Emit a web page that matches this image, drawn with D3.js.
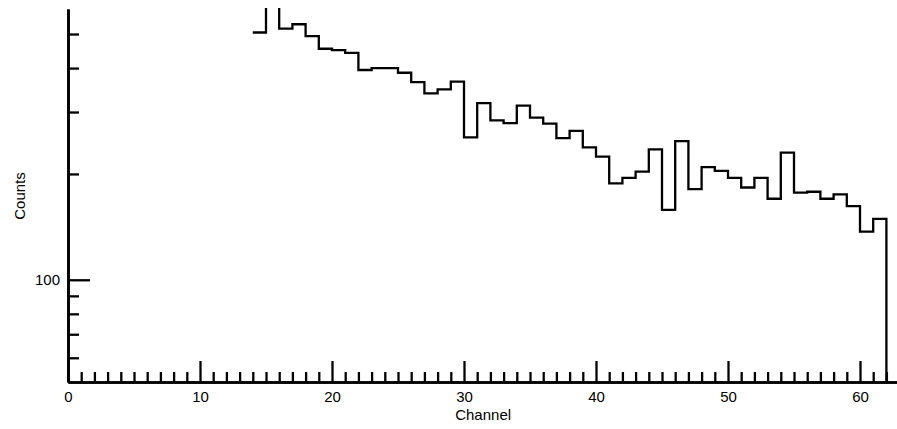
<!DOCTYPE html>
<html>
<head>
<meta charset="utf-8">
<script src="https://cdn.jsdelivr.net/npm/d3@7"></script>
<style>
  body { margin: 0; background: #fff; }
  text { font-family: "Liberation Sans", Arial, sans-serif; }
</style>
</head>
<body>
<script>
var width = 897, height = 429;

// Histogram data: counts per channel, starting at channel 14
var firstChannel = 14;
var counts = [505, 620, 518, 533, 493, 454, 450, 442, 395, 400, 400, 388, 365,
              339, 348, 366, 254, 318, 284, 279, 313, 289, 278, 253, 265, 238,
              224, 188, 195, 203, 235, 158, 248, 181, 209, 204, 195, 183, 195,
              170, 230, 177, 178, 170, 175, 162, 137, 149];

var xMajorTicks = [0, 10, 20, 30, 40, 50, 60];
var xMinorTicks = d3.range(1, 63).filter(function(d) { return d % 10 != 0; });
var yMajorTicks = [100];
var yMinorTicks = [60, 70, 80, 90, 200, 300, 400, 500];

var svg = d3.select("body")
    .append("svg")
    .attr("width", width)
    .attr("height", height);

// Scales
var x = d3.scaleLinear()
    .domain([0, 63])
    .range([68, 68 + 63 * 13.2]);

var y = d3.scaleLog()
    .domain([51.2, 589])
    .range([382, 9]);

// Clip the plot area
svg.append("clipPath")
    .attr("id", "plotclip")
  .append("rect")
    .attr("x", 68)
    .attr("y", 8)
    .attr("width", width - 68)
    .attr("height", 382 - 8);

// Step points: left bin edge with its count, then a drop to the floor
var points = counts.map(function(c, i) { return [firstChannel + i, c]; });
points.push([firstChannel + counts.length, y.domain()[0]]);

var line = d3.line()
    .x(function(d) { return x(d[0]); })
    .y(function(d) { return y(d[1]); })
    .curve(d3.curveStepAfter);

svg.append("path")
    .datum(points)
    .attr("clip-path", "url(#plotclip)")
    .attr("fill", "none")
    .attr("stroke", "#000")
    .attr("stroke-width", 2.3)
    .attr("d", line);

// X axis
var xMinor = svg.append("g")
    .attr("transform", "translate(0,382)")
    .call(d3.axisBottom(x).tickValues(xMinorTicks).tickSize(-10).tickSizeOuter(0).tickFormat(""));

var xMajor = svg.append("g")
    .attr("transform", "translate(0,382)")
    .call(d3.axisBottom(x).tickValues(xMajorTicks).tickSize(-21).tickSizeOuter(0).tickPadding(9));

// Y axis
var yMinor = svg.append("g")
    .attr("transform", "translate(68,0)")
    .call(d3.axisLeft(y).tickValues(yMinorTicks).tickSize(-11).tickSizeOuter(0).tickFormat(""));

var yMajor = svg.append("g")
    .attr("transform", "translate(68,0)")
    .call(d3.axisLeft(y).tickValues(yMajorTicks).tickSize(-22).tickSizeOuter(0).tickPadding(8)
        .tickFormat(d3.format("d")));

svg.selectAll(".domain")
    .attr("stroke", "#000")
    .attr("stroke-width", 2.6);
svg.selectAll(".tick line")
    .attr("stroke", "#000")
    .attr("stroke-width", 2.3);
svg.selectAll(".tick text")
    .attr("fill", "#000")
    .style("font-size", "15px");

// Axis titles
svg.append("text")
    .attr("x", x(31.45))
    .attr("y", 420)
    .attr("text-anchor", "middle")
    .style("font-size", "15px")
    .text("Channel");

svg.append("text")
    .attr("transform", "translate(25,196) rotate(-90)")
    .attr("text-anchor", "middle")
    .style("font-size", "15px")
    .text("Counts");
</script>
</body>
</html>
